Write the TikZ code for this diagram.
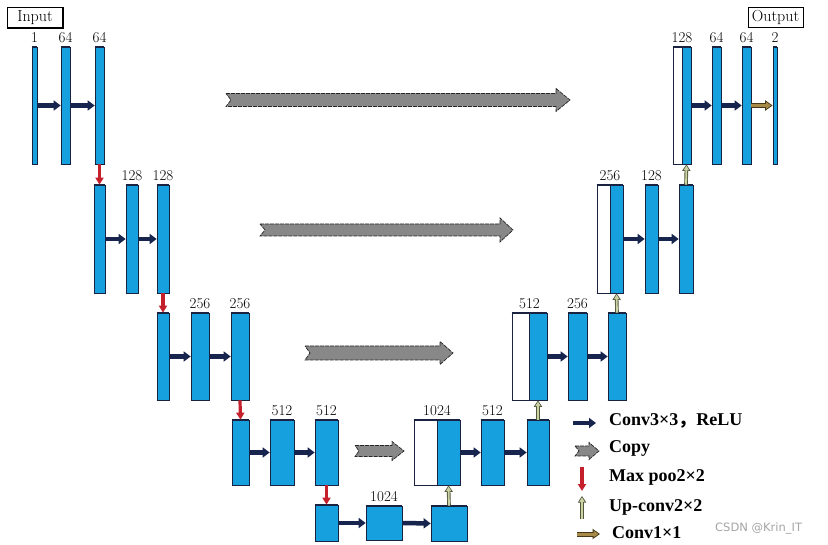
\documentclass[tikz,border=0pt]{standalone}
\usepackage{fontspec}
\newfontfamily\legfont{Liberation Serif}
\newfontfamily\cjk{Noto Sans CJK SC}
\newfontfamily\wmfont{DejaVu Sans}
\usetikzlibrary{arrows.meta,fit,calc}
\definecolor{boxblue}{RGB}{22,160,222}
\definecolor{edgenavy}{RGB}{25,35,65}
\definecolor{convnavy}{RGB}{22,36,78}
\definecolor{poolred}{RGB}{196,32,44}
\definecolor{upfill}{RGB}{205,210,165}
\definecolor{upedge}{RGB}{80,88,60}
\definecolor{onefill}{RGB}{168,138,72}
\definecolor{oneedge}{RGB}{70,55,22}
\definecolor{copygrey}{RGB}{136,136,136}
\newcommand\bx[6]{\node[#1, fit={(#3,#5) (#4,#6)}] (#2) {};}
\newcommand\cparrow[7]{\draw[cpy] (#1,#3-#4) -- (#2-#6,#3-#4) -- (#2-#6,#3-#5) -- (#2,#3) -- (#2-#6,#3+#5) -- (#2-#6,#3+#4) -- (#1,#3+#4) -- (#1+#7,#3) -- cycle;}
\begin{document}
\begin{tikzpicture}[x=1pt,y=-1pt,
  blk/.style={draw=edgenavy, line width=0.7pt, fill=boxblue, inner sep=0pt},
  wblk/.style={blk, fill=white},
  edgeline/.style={draw=edgenavy, line width=1.5pt},
  num/.style={font=\fontsize{15}{16}\selectfont, inner sep=1pt, anchor=south, yshift=3pt},
  conv/.style={draw=convnavy, line width=4.5pt, -{Triangle[length=7pt,width=10pt]}},
  pool/.style={draw=poolred, line width=3.2pt, -{Triangle[length=7pt,width=8pt]}},
  upo/.style={draw=upedge, line width=3.6pt, -{Triangle[length=6.5pt,width=8pt]}},
  upi/.style={draw=upfill, line width=1.8pt, -{Triangle[length=4.5pt,width=5pt]}, shorten >=1.3pt},
  oneo/.style={draw=oneedge, line width=5pt, -{Triangle[length=7.5pt,width=10pt]}},
  onei/.style={draw=onefill, line width=3pt, -{Triangle[length=5pt,width=6.5pt]}, shorten >=1.5pt},
  cpy/.style={fill=copygrey, draw=black!85, line width=0.7pt, dash pattern=on 4pt off 1pt},
  io/.style={draw=black, line width=0.7pt, fill=white, inner sep=0pt, minimum width=55pt, minimum height=20pt, font=\fontsize{16}{17}\selectfont},
  leg/.style={font=\legfont\bfseries\fontsize{18}{19}\selectfont, anchor=west, inner sep=0pt},
  wm/.style={font=\wmfont\fontsize{11.5}{12}\selectfont, text=black!35, anchor=west, inner sep=0pt}
]
\useasboundingbox (0,0) rectangle (828,545);
\fill[white] (0,0) rectangle (828,545);

% ---- encoder
\bx{blk}{a1}{32}{37}{47}{164}
\bx{blk}{a2}{61}{70}{47}{164}
\bx{blk}{a3}{95}{104}{47}{164}
\bx{blk}{b1}{94}{105}{185}{293}
\bx{blk}{b2}{126}{138}{185}{293}
\bx{blk}{b3}{157}{169}{185}{293}
\bx{blk}{c1}{157}{169}{313}{400}
\bx{blk}{c2}{191}{209}{313}{400}
\bx{blk}{c3}{231}{249}{313}{400}
\bx{blk}{d1}{232}{249}{420}{485}
\bx{blk}{d2}{270}{294}{420}{485}
\bx{blk}{d3}{315}{338}{420}{485}
\bx{blk}{e1}{315}{338}{505}{541}
\bx{blk}{e2}{366}{402}{506}{540}
\bx{blk}{e3}{431}{467}{506}{541}
% ---- decoder
\bx{wblk}{w4}{414}{437}{420}{485}
\bx{blk}{f1}{437}{460}{420}{485}
\bx{blk}{f2}{481}{504}{420}{485}
\bx{blk}{f3}{527}{549}{420}{485}
\bx{wblk}{w3}{512}{529}{313}{400}
\bx{blk}{g1}{529}{547}{313}{400}
\bx{blk}{g2}{568}{587}{313}{400}
\bx{blk}{g3}{608}{626}{313}{400}
\bx{wblk}{w2}{597}{610}{185}{293}
\bx{blk}{h1}{610}{623}{185}{293}
\bx{blk}{h2}{645}{658}{185}{293}
\bx{blk}{h3}{679}{693}{185}{293}
\bx{wblk}{w1}{673}{682}{47}{164}
\bx{blk}{k1}{682}{691}{47}{164}
\bx{blk}{k2}{712}{721}{47}{164}
\bx{blk}{k3}{742}{751}{47}{164}
\bx{blk}{k4}{773}{777}{47}{164}

\foreach \n in {a1,a2,a3,b1,b2,b3,c1,c2,c3,d1,d2,d3,e1,e2,e3,w4,f1,f2,f3,w3,g1,g2,g3,w2,h1,h2,h3,w1,k1,k2,k3,k4}
  \draw[edgeline] (\n.north west) -- (\n.north east) (\n.south west) -- (\n.south east);

% ---- channel labels
\node[num] at (a1.north) {1};
\node[num] at (a2.north) {64};
\node[num] at (a3.north) {64};
\node[num] at (b2.north) {128};
\node[num] at (b3.north) {128};
\node[num] at (c2.north) {256};
\node[num] at (c3.north) {256};
\node[num] at (d2.north) {512};
\node[num] at (d3.north) {512};
\node[num] at (e2.north) {1024};
\node[num] at ($(w4.north west)!0.5!(f1.north east)$) {1024};
\node[num] at (f2.north) {512};
\node[num] at ($(w3.north west)!0.5!(g1.north east)$) {512};
\node[num] at (g2.north) {256};
\node[num] at ($(w2.north west)!0.5!(h1.north east)$) {256};
\node[num] at (h2.north) {128};
\node[num] at ($(w1.north west)!0.5!(k1.north east)$) {128};
\node[num] at (k2.north) {64};
\node[num] at (k3.north) {64};
\node[num] at (k4.north) {2};

% ---- input / output
\node[io] (inp) at (35,17.5) {Input};
\draw[line width=1.4pt] (inp.south west) -- (inp.south east) -- (inp.north east);
\node[io] (outp) at (775.5,17) {Output};
\draw[line width=1.4pt] (outp.south west) -- (outp.south east) -- (outp.north east);

% ---- conv 3x3 arrows
\foreach \p/\q in {a1/a2,a2/a3,b1/b2,b2/b3,c1/c2,c2/c3,d1/d2,d2/d3,e1/e2,e2/e3,f1/f2,f2/f3,g1/g2,g2/g3,h1/h2,h2/h3,k1/k2,k2/k3}
  \draw[conv] (\p.east) -- (\q.west);
% ---- conv 1x1
\draw[oneo] (k3.east) -- (k4.west);
\draw[onei] (k3.east) -- (k4.west);
% ---- max pool
\foreach \p/\q in {a3/b1,b3/c1,c3/d1,d3/e1}
  \draw[pool] (\p.south) -- (\q.north);
% ---- up-conv
\foreach \p/\q in {e3/f1,f3/g1,g3/h1,h3/k1}{
  \draw[upo] (\p.north) -- (\q.south);
  \draw[upi] (\p.north) -- (\q.south);
}
% ---- copy arrows
\cparrow{226}{570}{100}{6.5}{11.5}{14}{5}
\cparrow{260}{513}{230}{6}{12}{13}{5}
\cparrow{305}{453}{353}{7}{11.5}{13}{5}
\cparrow{355}{404}{451}{5.5}{9.5}{12}{4}

% ---- legend
\coordinate (lc1) at (573,423); \coordinate (lc2) at (596,423);
\draw[conv] (lc1) -- (lc2);
\node[leg] (t1) at (609,421) {Conv3×3{\cjk ，}ReLU};
\cparrow{575}{599}{451}{5}{8.5}{10}{4}
\node[leg] (t2) at (609,448) {Copy};
\coordinate (lp1) at (582,467); \coordinate (lp2) at (582,491);
\draw[pool] (lp1) -- (lp2);
\node[leg] (t3) at (609,477) {Max poo2×2};
\coordinate (lu1) at (582,519); \coordinate (lu2) at (582,496);
\draw[upo] (lu1) -- (lu2);
\draw[upi] (lu1) -- (lu2);
\node[leg] (t4) at (609,507) {Up-conv2×2};
\coordinate (l11) at (577,534); \coordinate (l12) at (600,534);
\draw[oneo] (l11) -- (l12);
\draw[onei] (l11) -- (l12);
\node[leg] (t5) at (612,533) {Conv1×1};

\node[wm] (wmk) at (715,528) {CSDN @Krin\_IT};
\end{tikzpicture}
\end{document}
